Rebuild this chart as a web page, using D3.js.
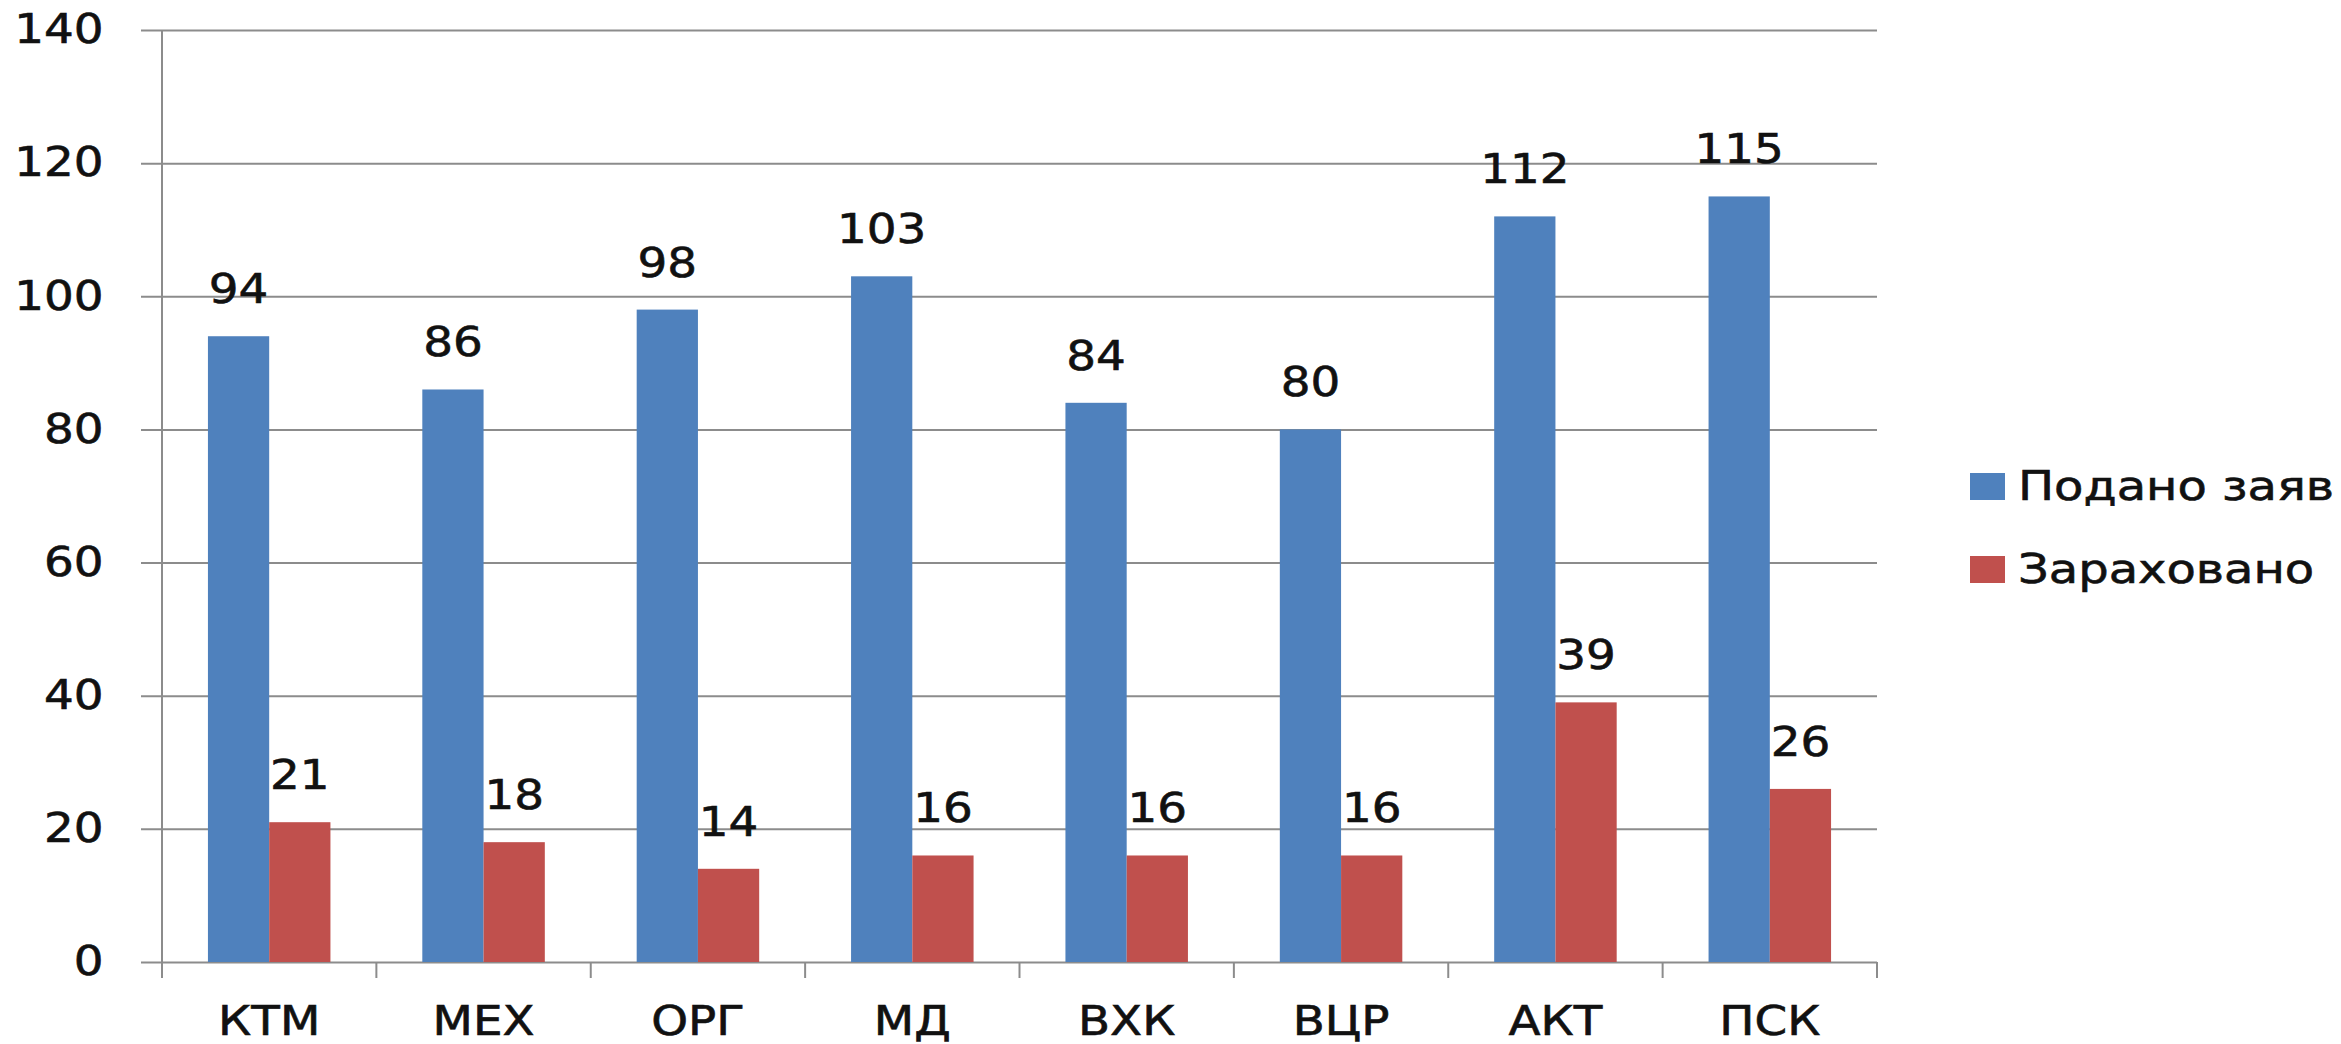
<!DOCTYPE html>
<html>
<head>
<meta charset="utf-8">
<script src="https://cdn.jsdelivr.net/npm/d3@7"></script>
<style>
  body { margin: 0; background: #fff; }
  text { font-family: "DejaVu Sans", Verdana, sans-serif; fill: #111; stroke: #111; stroke-width: 0.6px; }
</style>
</head>
<body>
<div id="chart-area"></div>
<script>
// Data
var categories = ["КТМ", "МЕХ", "ОРГ", "МД", "ВХК", "ВЦР", "АКТ", "ПСК"];
var seriesNames = ["Подано заяв", "Зараховано"];
var applied = [94, 86, 98, 103, 84, 80, 112, 115];
var enrolled = [21, 18, 14, 16, 16, 16, 39, 26];
var yTicks = [0, 20, 40, 60, 80, 100, 120, 140];
var colors = ["#4f81bd", "#c0504d"];

// Chart area
var W = 2341, H = 1044;
var plot = {left: 162, right: 1877, top: 30, bottom: 962};
var stretch = 1.17; // text in the picture is a bit wider than the font

var svg = d3.select("#chart-area").append("svg")
    .attr("width", W)
    .attr("height", H);

var x0 = d3.scaleBand()
    .domain(categories)
    .range([plot.left, plot.right])
    .paddingInner(0)
    .paddingOuter(0);

var x1 = d3.scaleBand()
    .domain(seriesNames)
    .range([0, x0.bandwidth()])
    .paddingInner(0)
    .paddingOuter(0.75);

var y = d3.scaleLinear()
    .domain([0, 140])
    .range([plot.bottom, plot.top]);

var color = d3.scaleOrdinal().domain(seriesNames).range(colors);

// y axis + gridlines
var yAxis = d3.axisLeft(y)
    .tickValues(yTicks)
    .tickSize(-(plot.right - 141))
    .tickPadding(32);

var gy = svg.append("g")
    .attr("transform", "translate(141,0)")
    .call(yAxis);
gy.select(".domain").remove();
gy.selectAll(".tick line").attr("stroke", "#8c8c8c").attr("stroke-width", 2);
gy.selectAll(".tick text")
    .attr("font-size", 40)
    .attr("fill", "#111")
    .attr("transform", "scale(" + stretch + ",1)");

// vertical axis line
svg.append("line")
    .attr("x1", plot.left).attr("x2", plot.left)
    .attr("y1", y(140)).attr("y2", y(0))
    .attr("stroke", "#8c8c8c").attr("stroke-width", 2);

// x axis labels
var xAxis = d3.axisBottom(x0).tickSize(0).tickPadding(45);
var gx = svg.append("g")
    .attr("transform", "translate(0," + plot.bottom + ")")
    .call(xAxis);
gx.select(".domain").remove();
gx.selectAll(".tick text")
    .attr("font-size", 40)
    .attr("fill", "#111")
    .attr("transform", "scale(" + stretch + ",1)");

// category boundary ticks
var bounds = categories.map(function (c) { return x0(c); }).concat([x0.range()[1]]);
svg.selectAll(".xtick")
    .data(bounds)
    .enter().append("line")
    .attr("class", "xtick")
    .attr("x1", function (d) { return d; })
    .attr("x2", function (d) { return d; })
    .attr("y1", plot.bottom)
    .attr("y2", plot.bottom + 16)
    .attr("stroke", "#8c8c8c").attr("stroke-width", 2);

// bars
var rows = categories.map(function (c, i) {
    return {cat: c, values: [
        {name: seriesNames[0], value: applied[i]},
        {name: seriesNames[1], value: enrolled[i]}
    ]};
});

var groups = svg.selectAll(".group")
    .data(rows)
    .enter().append("g")
    .attr("class", "group")
    .attr("transform", function (d) { return "translate(" + x0(d.cat) + ",0)"; });

groups.selectAll("rect")
    .data(function (d) { return d.values; })
    .enter().append("rect")
    .attr("x", function (d) { return x1(d.name); })
    .attr("width", x1.bandwidth())
    .attr("y", function (d) { return y(d.value); })
    .attr("height", function (d) { return y(0) - y(d.value); })
    .style("fill", function (d) { return color(d.name); });

// value labels
groups.selectAll(".val")
    .data(function (d) { return d.values; })
    .enter().append("text")
    .attr("class", "val")
    .attr("text-anchor", "middle")
    .attr("font-size", 40)
    .attr("transform", function (d) {
        return "translate(" + (x1(d.name) + x1.bandwidth() / 2) + "," + (y(d.value) - 33) + ") scale(" + stretch + ",1)";
    })
    .text(function (d) { return d.value; });

// legend
var legend = svg.selectAll(".legend")
    .data(seriesNames)
    .enter().append("g")
    .attr("class", "legend")
    .attr("transform", function (d, i) { return "translate(1970," + (473 + i * 83) + ")"; });

legend.append("rect")
    .attr("width", 35)
    .attr("height", 27)
    .style("fill", function (d) { return color(d); });

legend.append("text")
    .attr("font-size", 40)
    .attr("transform", "translate(48,27) scale(1.2,1)")
    .text(function (d) { return d; });
</script>
</body>
</html>
